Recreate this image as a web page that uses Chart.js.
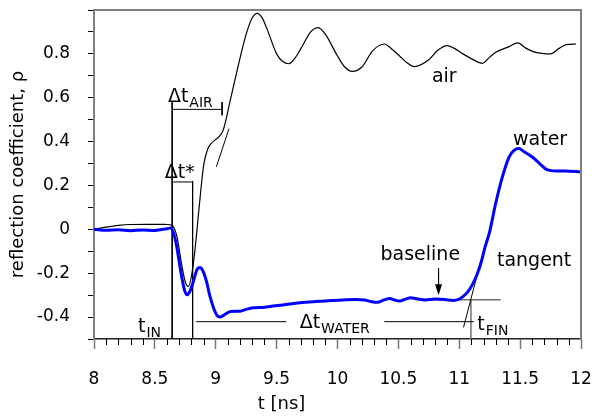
<!DOCTYPE html>
<html>
<head>
<meta charset="utf-8">
<title>reflection coefficient</title>
<script src="https://cdn.jsdelivr.net/npm/chart.js@4.4.0/dist/chart.umd.min.js"></script>
<style>
  html, body { margin: 0; padding: 0; background: #fff; }
  #wrap { width: 598px; height: 416px; }
</style>
</head>
<body>
<div id="wrap"><canvas id="chart" width="598" height="416"></canvas></div>
<script>
// trace in air (black), t in ns
const airTime = [8.00, 8.10, 8.20, 8.30, 8.45, 8.60, 8.64, 8.68, 8.72, 8.75, 8.775, 8.80, 8.83, 8.86, 8.90, 8.93,
  8.96, 9.00, 9.06, 9.12, 9.18, 9.25, 9.30, 9.34, 9.38, 9.42, 9.50, 9.55, 9.60, 9.65, 9.70, 9.78, 9.84, 9.90,
  10.00, 10.06, 10.12, 10.20, 10.29, 10.385, 10.45, 10.51, 10.57, 10.63, 10.75, 10.82, 10.90, 10.96, 11.03,
  11.11, 11.19, 11.25, 11.30, 11.41, 11.48, 11.55, 11.62, 11.75, 11.82, 11.88, 11.96];
const airRho = [0.000, 0.010, 0.018, 0.022, 0.023, 0.022, 0.018, -0.030, -0.160, -0.240, -0.260, -0.215, -0.090, 0.080, 0.290, 0.360,
  0.390, 0.410, 0.450, 0.590, 0.735, 0.890, 0.965, 0.985, 0.965, 0.915, 0.800, 0.765, 0.755, 0.780, 0.825, 0.900, 0.920, 0.890,
  0.790, 0.740, 0.720, 0.740, 0.815, 0.845, 0.820, 0.790, 0.760, 0.742, 0.773, 0.815, 0.838, 0.825, 0.800,
  0.775, 0.757, 0.785, 0.807, 0.833, 0.850, 0.825, 0.808, 0.800, 0.825, 0.842, 0.845];

// trace in water (blue)
const waterTime = [8.00, 8.10, 8.20, 8.30, 8.40, 8.50, 8.60, 8.63, 8.66, 8.68, 8.72, 8.745, 8.765, 8.79, 8.815, 8.845,
  8.87, 8.895, 8.925, 8.95, 8.98, 9.01, 9.035, 9.07, 9.12, 9.20, 9.25, 9.31, 9.40, 9.47, 9.55, 9.69, 9.80, 9.90,
  10.04, 10.15, 10.22, 10.28, 10.33, 10.38, 10.43, 10.47, 10.51, 10.56, 10.60, 10.66, 10.72, 10.80, 10.88, 10.95,
  11.00, 11.03, 11.07, 11.11, 11.15, 11.18, 11.21, 11.25, 11.30, 11.355, 11.41, 11.45, 11.49, 11.53, 11.60,
  11.66, 11.72, 11.80, 11.87, 12.00];
const waterRho = [0.000, -0.004, -0.002, -0.006, -0.003, -0.005, 0.003, 0.006, -0.030, -0.080, -0.215, -0.280, -0.298, -0.280, -0.240, -0.185,
  -0.174, -0.190, -0.240, -0.300, -0.355, -0.392, -0.400, -0.390, -0.375, -0.373, -0.365, -0.358, -0.355, -0.350, -0.345, -0.335, -0.330, -0.327,
  -0.322, -0.320, -0.322, -0.330, -0.333, -0.322, -0.315, -0.322, -0.327, -0.318, -0.312, -0.318, -0.322, -0.318, -0.320, -0.324,
  -0.318, -0.307, -0.285, -0.250, -0.200, -0.150, -0.085, -0.010, 0.120, 0.240, 0.330, 0.360, 0.368, 0.355, 0.330,
  0.300, 0.272, 0.266, 0.266, 0.262];

// construction lines [t1, rho1, t2, rho2]
const blackGuides = [
  [8.642, 0.58, 8.642, -0.5],     // t_IN
  [8.81, 0.22, 8.81, -0.5],       // end of dt*
  [8.642, 0.547, 9.052, 0.547],   // dt_AIR
  [9.052, 0.58, 9.052, 0.52],
  [8.642, 0.216, 8.81, 0.216],    // dt*
  [9.005, 0.285, 9.109, 0.459],   // tangent in air
  [8.84, -0.421, 9.58, -0.421],   // dt_WATER
  [10.385, -0.421, 11.12, -0.421],
  [11.035, -0.447, 11.197, -0.103], // tangent in water
  [10.83, -0.177, 10.83, -0.27]   // arrow to baseline
];
const grayGuides = [
  [10.70, -0.321, 11.34, -0.321], // baseline
  [11.096, -0.321, 11.096, -0.5]  // t_FIN
];
const arrowTip = [10.83, -0.30];

// labels: text, subscript, t, rho, align
const labels = [
  ['\u0394t', 'AIR', 8.607, 0.579, 'left'],
  ['\u0394t*', '', 8.582, 0.233, 'left'],
  ['t', 'IN', 8.361, -0.467, 'left'],
  ['\u0394t', 'WATER', 9.689, -0.449, 'left'],
  ['t', 'FIN', 11.148, -0.458, 'left'],
  ['air', '', 10.877, 0.67, 'center'],
  ['water', '', 11.664, 0.383, 'center'],
  ['baseline', '', 10.68, -0.14, 'center'],
  ['tangent', '', 11.615, -0.167, 'center']
];

const FONT = '"DejaVu Sans", sans-serif';

function toPoints(ts, ys) {
  return ts.map((t, i) => ({ x: t, y: ys[i] }));
}
function segPoints(segs) {
  const pts = [];
  segs.forEach(s => {
    pts.push({ x: s[0], y: s[1] }, { x: s[2], y: s[3] }, { x: s[2], y: null });
  });
  return pts;
}

// frame, minor ticks, labels
const decorations = {
  id: 'decorations',
  afterDraw(chart) {
    const ctx = chart.ctx;
    const a = chart.chartArea;
    const xs = chart.scales.x, ys = chart.scales.y;
    ctx.save();
    // top and right frame
    ctx.strokeStyle = '#808080';
    ctx.lineWidth = 2;
    ctx.beginPath();
    ctx.moveTo(a.left, a.top);
    ctx.lineTo(a.right, a.top);
    ctx.lineTo(a.right, a.bottom);
    ctx.stroke();
    // minor ticks on t axis
    ctx.strokeStyle = '#000';
    ctx.lineWidth = 1;
    for (let i = 81; i < 120; i++) {
      if (i % 5 === 0) continue;
      const px = Math.round(xs.getPixelForValue(i / 10)) + 0.5;
      ctx.beginPath();
      ctx.moveTo(px, a.bottom);
      ctx.lineTo(px, a.bottom + 6);
      ctx.stroke();
    }
    // arrow head
    const tx = xs.getPixelForValue(arrowTip[0]), ty = ys.getPixelForValue(arrowTip[1]);
    ctx.fillStyle = '#000';
    ctx.beginPath();
    ctx.moveTo(tx, ty);
    ctx.lineTo(tx - 3.5, ty - 11);
    ctx.lineTo(tx + 3.5, ty - 11);
    ctx.closePath();
    ctx.fill();
    // text labels
    ctx.textBaseline = 'alphabetic';
    labels.forEach(([main, sub, t, r, align]) => {
      const px = xs.getPixelForValue(t), py = ys.getPixelForValue(r);
      ctx.font = '19px ' + FONT;
      ctx.textAlign = align;
      ctx.fillText(main, px, py);
      if (sub) {
        const w = ctx.measureText(main).width;
        ctx.font = '14px ' + FONT;
        ctx.textAlign = 'left';
        ctx.fillText(sub, px + w + 1, py + 5);
      }
    });
    // t axis title
    ctx.font = '18px ' + FONT;
    ctx.textAlign = 'center';
    ctx.fillText('t [ns]', xs.getPixelForValue(9.54), a.bottom + 70);
    ctx.restore();
  }
};

new Chart(document.getElementById('chart'), {
  type: 'line',
  data: {
    datasets: [
      {
        data: toPoints(waterTime, waterRho),
        borderColor: '#0000ff',
        borderWidth: 3,
        cubicInterpolationMode: 'monotone',
        pointRadius: 0
      },
      {
        data: toPoints(airTime, airRho),
        borderColor: '#000',
        borderWidth: 1.2,
        cubicInterpolationMode: 'monotone',
        pointRadius: 0
      },
      {
        data: segPoints(blackGuides),
        borderColor: '#000',
        borderWidth: 1,
        pointRadius: 0,
        spanGaps: false
      },
      {
        data: segPoints(grayGuides),
        borderColor: '#6e6e6e',
        borderWidth: 1.5,
        pointRadius: 0,
        spanGaps: false
      }
    ]
  },
  options: {
    responsive: false,
    animation: false,
    events: [],
    layout: { padding: { top: 10, right: 17, left: 0, bottom: 0 } },
    plugins: { legend: { display: false }, tooltip: { enabled: false } },
    scales: {
      x: {
        type: 'linear',
        min: 8, max: 12,
        afterFit: s => { s.height = 77; s.paddingLeft = 0; s.paddingRight = 0; },
        border: { color: '#222', width: 1.5 },
        grid: { drawOnChartArea: false, tickLength: 10, tickColor: '#777', tickWidth: 1.5 },
        ticks: {
          stepSize: 0.5,
          padding: 20,
          color: '#000',
          font: { family: FONT, size: 17 },
          callback: v => String(v)
        }
      },
      y: {
        min: -0.5, max: 1.0,
        afterFit: s => { s.width = 94; s.paddingTop = 0; s.paddingBottom = 0; },
        border: { color: '#808080', width: 2 },
        grid: { drawOnChartArea: false, tickLength: 6, tickColor: '#000' },
        ticks: {
          stepSize: 0.1,
          autoSkip: false,
          padding: 18,
          color: '#000',
          font: { family: FONT, size: 17 },
          callback: v => {
            const r = Math.round(v * 10);
            if (r % 2 !== 0 || r < -4 || r > 8) return '';
            return String(r / 10);
          }
        },
        title: {
          display: true,
          text: 'reflection coefficient, \u03c1',
          color: '#000',
          font: { family: FONT, size: 18 },
          padding: { top: 8, bottom: 0 }
        }
      }
    }
  },
  plugins: [decorations]
});
</script>
</body>
</html>
